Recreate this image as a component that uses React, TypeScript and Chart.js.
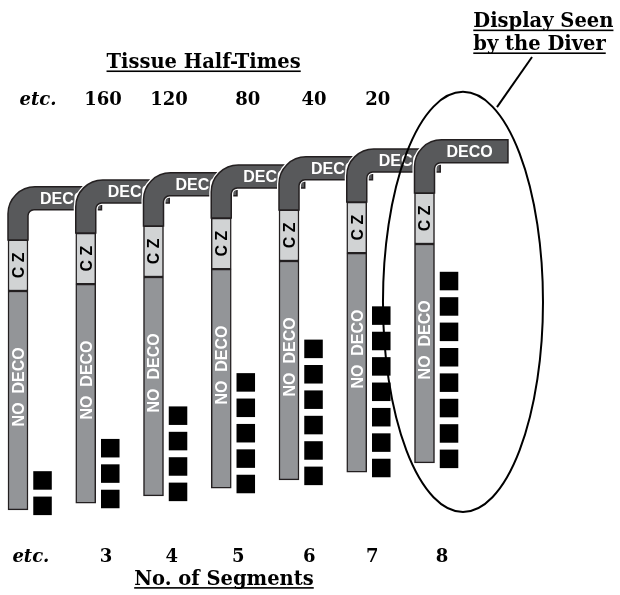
import React, { useEffect, useRef } from 'react';
import { Chart, registerables } from 'chart.js';

Chart.register(...registerables);

// ---- Data ----
// columns = number of segments shown for each tissue bar graph
const segmentLabels = ['etc.', '3', '4', '5', '6', '7', '8'];
const segmentCounts = [2, 3, 4, 5, 6, 7, 8];
const segmentLabelX = [0.19, 1.3, 2.27, 3.25, 4.3, 5.23, 6.26];
// tissue half-times (minutes) written above the columns
const halfTimeLabels = ['etc.', '160', '120', '80', '40', '20'];
const halfTimeX = [0.295, 1.255, 2.23, 3.39, 4.37, 5.31];
// base level (in segment units) of each column's bar
const pipeBase = [3.35, 3.62, 3.9, 4.21, 4.53, 4.84, 5.2];
// zone lengths (segment units): NO DECO, CZ, DECO
const zoneNames = ['NO  DECO', 'C Z', 'DECO'];
const zoneLengths = [8.62, 2.01, 2.09];
// title texts
const titleTop = 'Tissue Half-Times';
const titleBottom = 'No. of Segments';
const calloutLines = ['Display Seen', 'by the Diver'];

// ---- Layout (in scale units) ----
const X_MIN = -0.2657;
const X_MAX = 8.8856;
const Y_MIN = 0;
const Y_MAX = 23.425;
const ARM = 1.232; // horizontal DECO arm length (columns)
const SQUARE_DX = 0.362;
const SQUARE_DY = 0.16;
const ELLIPSE = { cx: 6.568, cy: 11.54, rx: 1.181, ry: 8.27 };
const POINTER = [
  { x: 7.587, y: 21.18 },
  { x: 7.07, y: 19.21 },
];
const TITLE_TOP_POS = { x: 2.74, y: 20.75 };
const TITLE_BOTTOM_POS = { x: 3.04, y: 0.41 };
const CALLOUT_POS = [
  { x: 6.72, y: 22.36 },
  { x: 6.72, y: 21.46 },
];
const HALF_TIME_Y = 19.29;
const SEGMENT_LABEL_Y = 1.3;

// ---- Styles ----
const C_NODECO = '#939598';
const C_CZ = '#d1d3d4';
const C_DECO = '#58595b';
const C_EDGE = '#231f20';
const SERIF = '"DejaVu Serif", "Liberation Serif", serif';
const SANS = '"Liberation Sans", Arial, sans-serif';

const diagramPlugin = {
  id: 'diagram',
  afterDatasetsDraw(chart: any) {
    const ctx: CanvasRenderingContext2D = chart.ctx;
    const xs = chart.scales.x;
    const ys = chart.scales.y;
    const px = (v: number) => xs.getPixelForValue(v);
    const py = (v: number) => ys.getPixelForValue(v);
    const half = 10;
    const armH = 23;
    const R = 27;
    const r = 6;

    ctx.save();
    // zone labels inside vertical bars
    segmentLabels.forEach((_, i) => {
      const cx = px(i);
      const base = pipeBase[i];
      const noDecoMid = base + zoneLengths[0] * 0.562;
      const czMid = base + zoneLengths[0] + zoneLengths[1] / 2;
      ctx.font = `bold 16px ${SANS}`;
      ctx.textAlign = 'center';
      ctx.textBaseline = 'alphabetic';
      [
        { v: noDecoMid, t: zoneNames[0], c: '#ffffff' },
        { v: czMid, t: zoneNames[1], c: '#000000' },
      ].forEach((o) => {
        ctx.save();
        ctx.translate(cx, py(o.v));
        ctx.rotate(-Math.PI / 2);
        ctx.fillStyle = o.c;
        ctx.fillText(o.t, 0, 5.8);
        ctx.restore();
      });
    });

    // elbows + DECO arms, left to right so each covers the previous arm
    segmentLabels.forEach((_, i) => {
      const cx = px(i);
      const base = pipeBase[i];
      const czTopV = base + zoneLengths[0] + zoneLengths[1];
      const topV = czTopV + zoneLengths[2];
      const L = cx - half;
      const Rv = cx + half;
      const T = py(topV);
      const B = T + armH;
      const Z = py(czTopV);
      const E = px(i + ARM);

      const outline = () => {
        ctx.beginPath();
        ctx.moveTo(L, Z);
        ctx.lineTo(L, T + R);
        ctx.arcTo(L, T, L + R, T, R);
        ctx.lineTo(E, T);
        ctx.lineTo(E, B);
        ctx.lineTo(Rv + r, B);
        ctx.arcTo(Rv, B, Rv, B + r, r);
        ctx.lineTo(Rv, Z);
      };
      // white halo
      outline();
      ctx.strokeStyle = '#ffffff';
      ctx.lineWidth = 4;
      ctx.lineJoin = 'miter';
      ctx.stroke();
      // body
      outline();
      ctx.closePath();
      ctx.fillStyle = C_DECO;
      ctx.fill();
      ctx.strokeStyle = C_EDGE;
      ctx.lineWidth = 1.5;
      ctx.stroke();
      // DECO text
      ctx.font = `bold 16px ${SANS}`;
      ctx.fillStyle = '#ffffff';
      ctx.textAlign = 'left';
      ctx.textBaseline = 'alphabetic';
      ctx.fillText(zoneNames[2], cx + 22, T + armH / 2 + 5.8);
    });

    // serif labels
    const underlined = (text: string, x: number, y: number, align: CanvasTextAlign) => {
      ctx.textAlign = align;
      ctx.fillText(text, x, y);
      const w = ctx.measureText(text).width;
      const x0 = align === 'center' ? x - w / 2 : align === 'left' ? x : x - w;
      ctx.fillRect(x0, y + 2.5, w, 1.6);
    };
    ctx.fillStyle = '#000000';
    ctx.textBaseline = 'alphabetic';
    ctx.font = `bold 19.5px ${SERIF}`;
    underlined(titleTop, px(TITLE_TOP_POS.x), py(TITLE_TOP_POS.y), 'center');
    underlined(titleBottom, px(TITLE_BOTTOM_POS.x), py(TITLE_BOTTOM_POS.y), 'center');
    calloutLines.forEach((t, k) => {
      ctx.font = `bold 19.5px ${SERIF}`;
      underlined(t, px(CALLOUT_POS[k].x), py(CALLOUT_POS[k].y), 'left');
    });

    ctx.textAlign = 'center';
    halfTimeLabels.forEach((t, k) => {
      ctx.font = t === 'etc.' ? `italic bold 18px ${SERIF}` : `bold 18px ${SERIF}`;
      ctx.fillText(t, px(halfTimeX[k]), py(HALF_TIME_Y));
    });
    segmentLabels.forEach((t, k) => {
      ctx.font = t === 'etc.' ? `italic bold 18px ${SERIF}` : `bold 18px ${SERIF}`;
      ctx.fillText(t, px(segmentLabelX[k]), py(SEGMENT_LABEL_Y));
    });

    // callout ellipse and pointer
    const ecx = px(ELLIPSE.cx);
    const ecy = py(ELLIPSE.cy);
    const erx = px(ELLIPSE.cx + ELLIPSE.rx) - ecx;
    const ery = py(ELLIPSE.cy - ELLIPSE.ry) - ecy;
    ctx.strokeStyle = '#000000';
    ctx.lineWidth = 2;
    ctx.beginPath();
    ctx.ellipse(ecx, ecy, erx, ery, 0, 0, Math.PI * 2);
    ctx.stroke();
    ctx.beginPath();
    ctx.moveTo(px(POINTER[0].x), py(POINTER[0].y));
    ctx.lineTo(px(POINTER[1].x), py(POINTER[1].y));
    ctx.stroke();
    ctx.restore();
  },
};

export default function App() {
  const canvasRef = useRef<HTMLCanvasElement | null>(null);

  useEffect(() => {
    const canvas = canvasRef.current;
    if (!canvas) return;

    const noDecoData = segmentLabels.map((_, i) => ({
      x: i,
      y: [pipeBase[i], pipeBase[i] + zoneLengths[0]],
    }));
    const czData = segmentLabels.map((_, i) => ({
      x: i,
      y: [pipeBase[i] + zoneLengths[0], pipeBase[i] + zoneLengths[0] + zoneLengths[1]],
    }));
    const squareData: { x: number; y: number }[] = [];
    segmentCounts.forEach((n, i) => {
      for (let k = 0; k < n; k++) {
        squareData.push({ x: i + SQUARE_DX, y: pipeBase[i] + SQUARE_DY + k });
      }
    });

    const chart = new Chart(canvas, {
      type: 'bar',
      data: {
        datasets: [
          {
            label: 'NO DECO',
            data: noDecoData as any,
            backgroundColor: C_NODECO,
            borderColor: C_EDGE,
            borderWidth: 1.5,
            borderSkipped: false,
            barThickness: 20,
            grouped: false,
          } as any,
          {
            label: 'CZ',
            data: czData as any,
            backgroundColor: C_CZ,
            borderColor: C_EDGE,
            borderWidth: 1.5,
            borderSkipped: false,
            barThickness: 20,
            grouped: false,
          } as any,
          {
            type: 'scatter',
            label: 'Segments',
            data: squareData,
            pointStyle: 'rect',
            pointRadius: 13.1,
            pointBorderWidth: 0,
            backgroundColor: '#000000',
            borderColor: '#000000',
          } as any,
        ],
      },
      options: {
        animation: false,
        responsive: false,
        devicePixelRatio: 1,
        events: [],
        layout: { padding: 0, autoPadding: false },
        plugins: {
          legend: { display: false },
          tooltip: { enabled: false },
          title: { display: false },
        },
        scales: {
          x: { type: 'linear', min: X_MIN, max: X_MAX, display: false, offset: false, grid: { offset: false } },
          y: { type: 'linear', min: Y_MIN, max: Y_MAX, display: false },
        },
      } as any,
      plugins: [diagramPlugin],
    });

    return () => chart.destroy();
  }, []);

  return (
    <div style={{ position: 'absolute', left: 0, top: 0, width: 620, height: 595, background: '#ffffff' }}>
      <canvas ref={canvasRef} width={620} height={595} style={{ display: 'block' }} />
    </div>
  );
}
